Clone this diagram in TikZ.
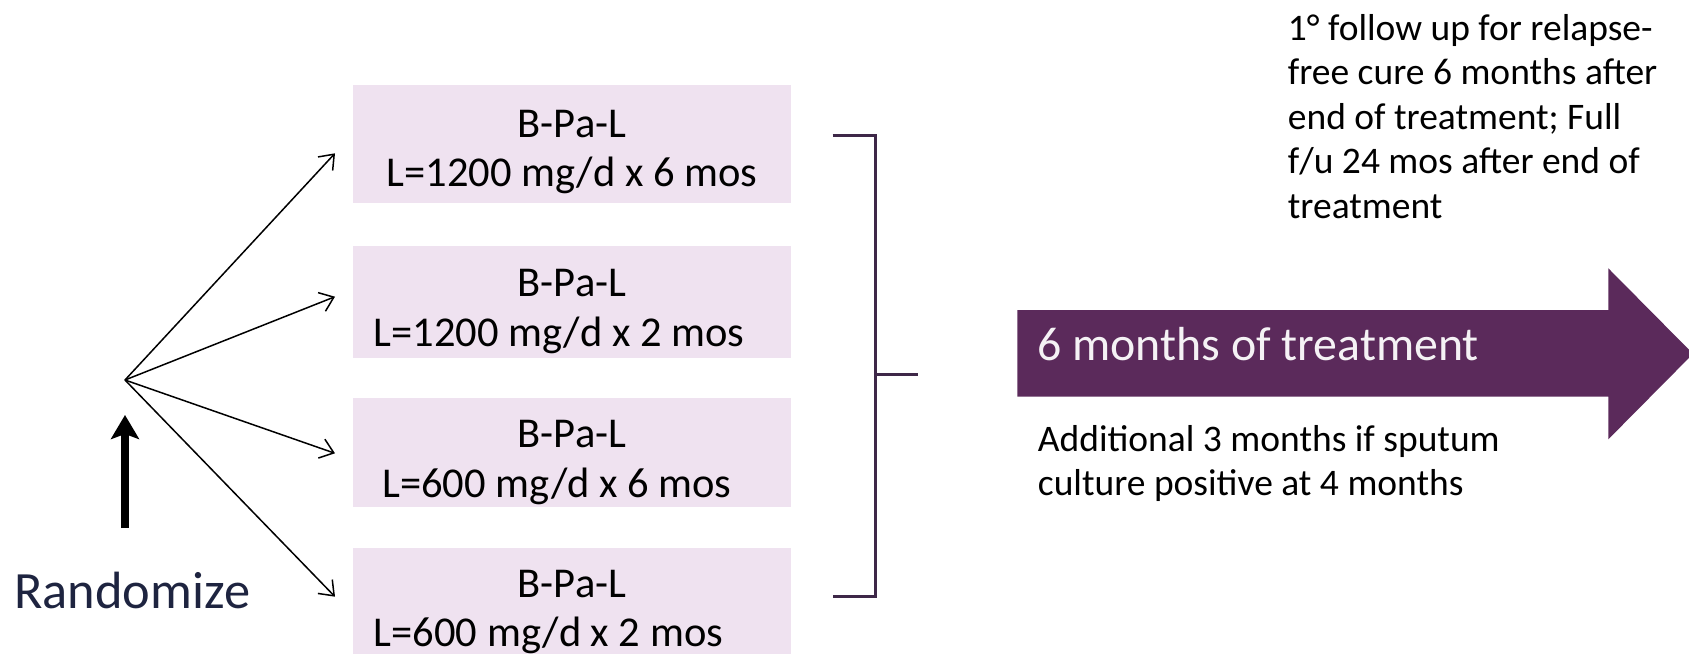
\documentclass[tikz,border=0pt]{standalone}
\usepackage{fontspec}
\setmainfont{Carlito}
\usetikzlibrary{arrows.meta}
\definecolor{boxfill}{RGB}{239,226,240}
\definecolor{plum}{RGB}{91,42,91}
\definecolor{brk}{RGB}{62,40,72}
\definecolor{navy}{RGB}{30,36,64}
\newcommand{\twoc}[2]{\vtop{\halign{\hfil##\hfil\cr#1\cr#2\cr}}}
\newcommand{\leftlines}[1]{\vtop{\halign{##\hfil\cr#1\cr}}}
\tikzset{
  box/.style={rectangle, fill=boxfill, draw=none, minimum width=219pt, inner sep=0pt},
  boxtxt/.style={anchor=base, inner sep=0pt, text=black, font=\fontsize{21.25pt}{24.8pt}\selectfont},
  fan/.style={line width=0.75pt, -{Straight Barb[length=6.5pt,width=10pt]}},
  bracket/.style={draw=brk, line width=1.5pt},
  note/.style={anchor=base west, inner sep=0pt, text=black},
}
\begin{document}
\begin{tikzpicture}[x=0.5pt,y=-0.5pt]
\useasboundingbox (0,0) rectangle (1689,653);
% boxes
\node[box, minimum height=59pt] (b1) at (571.5,144) {};
\node[box, minimum height=56pt] (b2) at (571.7,302) {};
\node[box, minimum height=54.5pt] (b3) at (571.7,452.5) {};
\node[box, minimum height=56pt] (b4) at (571.7,604) {};
\node[boxtxt] (t1) at (572,137.3) {\twoc{B-Pa-L}{L=1200 mg/d x 6 mos}};
\node[boxtxt] (t2) at (572,296.7) {\twoc{B-Pa-L}{L=1200 mg/d x 2 mos\kern13pt}};
\node[boxtxt] (t3) at (572,447.8) {\twoc{B-Pa-L}{L=600 mg/d x 6 mos\kern15pt}};
\node[boxtxt] (t4) at (572,597.3) {\twoc{B-Pa-L}{L=600 mg/d x 2 mos\kern23.5pt}};
% fan of arrows
\coordinate (apex) at (125,380);
\coordinate (e1) at (335,153.3);
\coordinate (e2) at (335,296.7);
\coordinate (e3) at (335,453.3);
\coordinate (e4) at (335,596.7);
\draw[fan] (apex) -- (e1);
\draw[fan] (apex) -- (e2);
\draw[fan] (apex) -- (e3);
\draw[fan] (apex) -- (e4);
% randomize
\node[anchor=base west, inner sep=0pt, text=navy, font=\fontsize{26.2pt}{30pt}\selectfont] (rand) at (14,608.3) {Randomize};
\coordinate (rs) at (125,528);
\coordinate (rt) at (125,415);
\draw[line width=4pt, -{Stealth[length=12pt,width=14pt,inset=2.5pt]}] (rs) -- (rt);
% bracket
\coordinate (k1) at (832.7,135);
\coordinate (k2) at (875,135);
\coordinate (k3) at (875,596);
\coordinate (k4) at (832.7,596);
\coordinate (km) at (875,374);
\coordinate (kt) at (918,374);
\draw[bracket] (k1) -- (k2) -- (k3) -- (k4);
\draw[bracket] (km) -- (kt);
% big arrow
\fill[plum] (1017.3,310) -- (1608.3,310) -- (1608.3,268.3) -- (1693,353.8) -- (1608.3,439.3) -- (1608.3,396.7) -- (1017.3,396.7) -- cycle;
\node[anchor=base west, inner sep=0pt, text=white!94!plum, font=\fontsize{23.9pt}{28pt}\selectfont] (arr) at (1037,360) {6 months of treatment};
% notes
\node[note, font=\fontsize{18.75pt}{22.3pt}\selectfont] (fu) at (1287.5,40) {\leftlines{1° follow up for relapse-\cr free cure 6 months after\cr end of treatment; Full\cr f/u 24 mos after end of\cr treatment}};
\node[note, font=\fontsize{18.75pt}{21.65pt}\selectfont] (add) at (1037.5,451.7) {\leftlines{Additional 3 months if sputum\cr culture positive at 4 months}};
\end{tikzpicture}
\end{document}
